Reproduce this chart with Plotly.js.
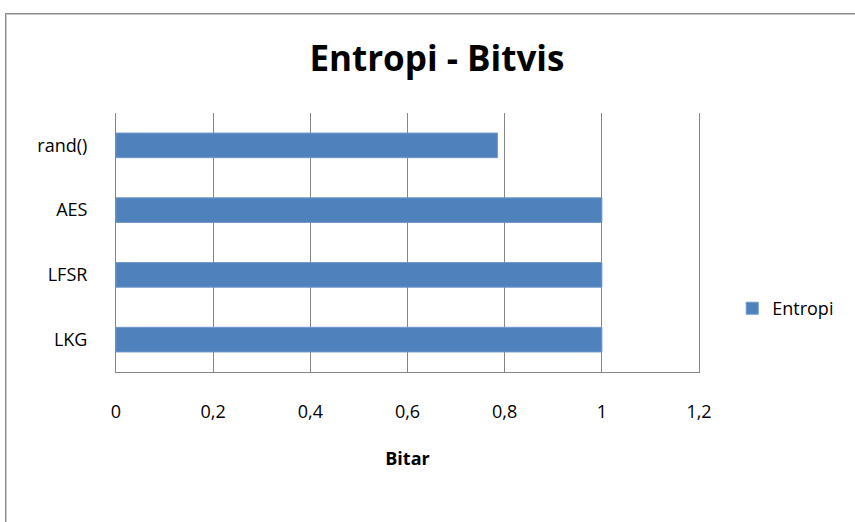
<!DOCTYPE html>
<html>
<head>
<meta charset="utf-8">
<script src="https://cdn.plot.ly/plotly-3.0.1.min.js"></script>
<style>
  html, body { margin: 0; padding: 0; background: #fff; overflow: hidden; }
  #frame {
    position: absolute; left: 5px; top: 13px; width: 900px; height: 560px;
    border-left: 1px solid #8c8c8c; border-top: 1px solid #8c8c8c;
    box-shadow: inset 1px 1px 0 #c8c8c8;
  }
  #chart { position: absolute; left: 0; top: 0; width: 855px; height: 522px; }
</style>
</head>
<body>
<div id="frame"></div>
<div id="chart"></div>
<script>
// Entropy per generator, in bits (bottom-to-top order on the category axis)
const categories = ['LKG', 'LFSR', 'AES', 'rand()'];
const entropi = [1, 1, 1, 0.785];
const xTicks = [0, 0.2, 0.4, 0.6, 0.8, 1, 1.2];
const xTickLabels = ['0', '0,2', '0,4', '0,6', '0,8', '1', '1,2'];

const FONT = '"Open Sans", Lato, sans-serif';
const GRID = '#868686';

const data = [{
  type: 'bar',
  orientation: 'h',
  name: 'Entropi',
  y: categories,
  x: entropi,
  marker: { color: '#4F81BD', line: { color: '#6f97c8', width: 1 } },
  hoverinfo: 'none'
}];

const layout = {
  width: 855,
  height: 522,
  paper_bgcolor: 'rgba(0,0,0,0)',
  plot_bgcolor: 'rgba(0,0,0,0)',
  margin: { l: 116, r: 156, t: 113, b: 150 },
  font: { family: FONT, color: '#000', size: 18 },
  title: {
    text: '<b>Entropi - Bitvis</b>',
    font: { family: FONT, size: 35, color: '#000' },
    x: 0.511, xanchor: 'center',
    y: 0.888, yanchor: 'middle'
  },
  bargap: 0.62,
  xaxis: {
    range: [0, 1.2],
    tickvals: xTicks,
    ticktext: xTickLabels,
    showgrid: true,
    gridcolor: GRID,
    gridwidth: 1,
    zeroline: false,
    showline: true,
    linecolor: GRID,
    linewidth: 1,
    ticks: '',
    ticklabelstandoff: 23,
    tickfont: { family: FONT, size: 18 },
    title: {
      text: '<b>Bitar</b>',
      font: { family: FONT, size: 18 },
      standoff: 30
    },
    fixedrange: true
  },
  yaxis: {
    type: 'category',
    showgrid: false,
    zeroline: false,
    showline: true,
    mirror: true,
    linecolor: GRID,
    linewidth: 1,
    ticks: '',
    ticklabelstandoff: 24,
    tickfont: { family: FONT, size: 18 },
    fixedrange: true
  },
  showlegend: true,
  legend: {
    x: 1.057, xanchor: 'left',
    y: 0.245, yanchor: 'middle',
    font: { family: FONT, size: 18 },
    bgcolor: 'rgba(0,0,0,0)'
  }
};

Plotly.newPlot('chart', data, layout, { staticPlot: true, displayModeBar: false });
</script>
</body>
</html>
